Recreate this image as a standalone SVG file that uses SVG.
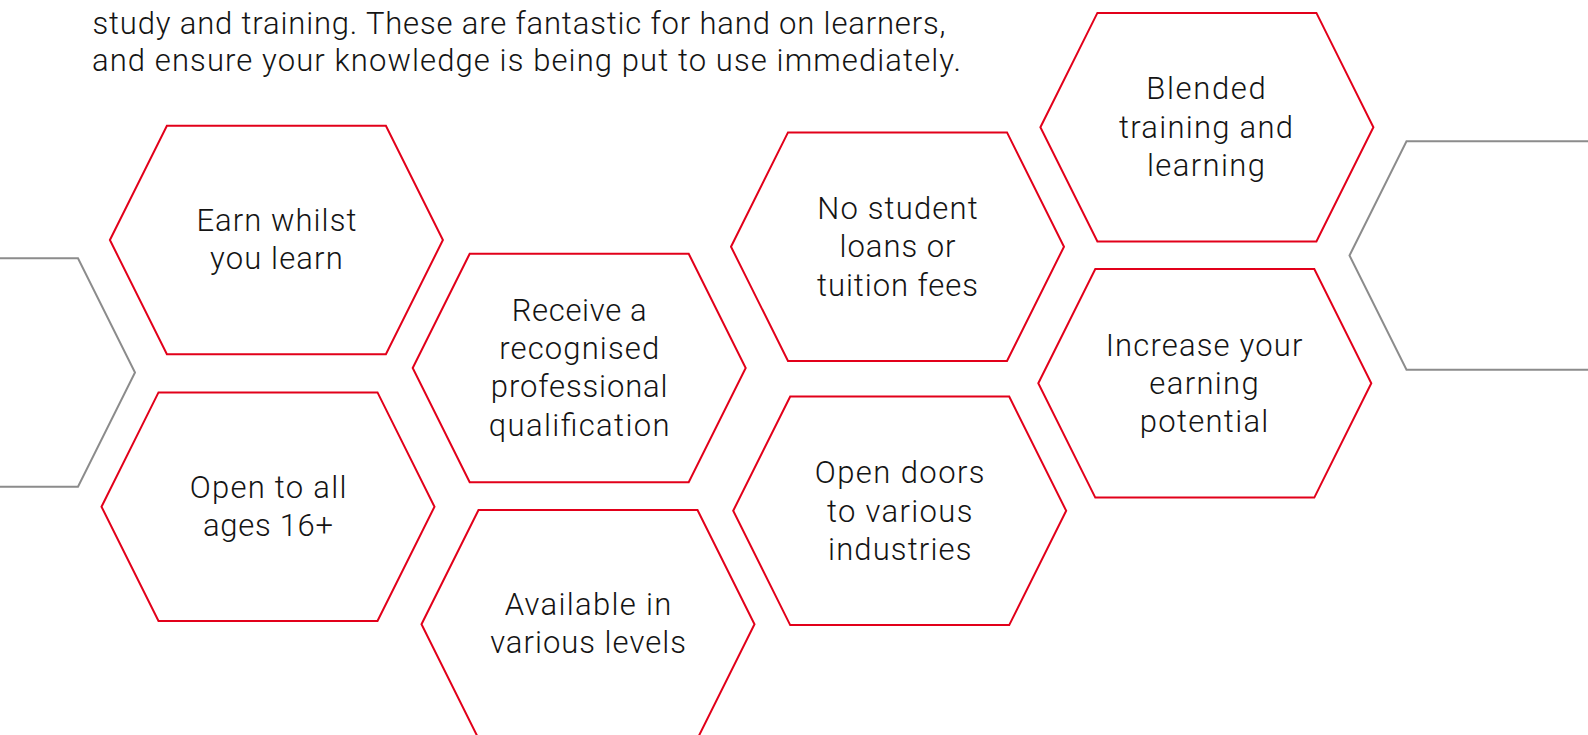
<svg xmlns="http://www.w3.org/2000/svg" xmlns:xlink="http://www.w3.org/1999/xlink" width="1588" height="735" viewBox="0 0 1588 735">
  <style>
    .hex { fill: #ffffff; stroke: #e2001a; stroke-width: 2; stroke-linejoin: miter; }
    .ghex { fill: #ffffff; stroke: #8c8c8c; stroke-width: 2; stroke-linejoin: miter; }
    .lbl { font-family: Roboto, "Liberation Sans", sans-serif; font-weight: 300; font-size: 31px; fill: #141414; text-anchor: middle; }
    .para { font-family: Roboto, "Liberation Sans", sans-serif; font-weight: 300; font-size: 31px; fill: #141414; }
  </style>
  <defs>
    <polygon id="hexshape" points="-166.5,0 -109.5,-114.3 109.5,-114.3 166.5,0 109.5,114.3 -109.5,114.3"/>
  </defs>
  <rect width="1588" height="735" fill="#ffffff"/>

  <g id="intro">
    <text class="para" x="92.5" y="34" textLength="853" lengthAdjust="spacing">study and training. These are fantastic for hand on learners,</text>
    <text class="para" x="92" y="71" textLength="869" lengthAdjust="spacing">and ensure your knowledge is being put to use immediately.</text>
  </g>

  <g id="node-grey-left">
    <use xlink:href="#hexshape" class="ghex" transform="translate(-31.5,372.5)"/>
  </g>
  <g id="node-grey-right">
    <use xlink:href="#hexshape" class="ghex" transform="translate(1516,255.5)"/>
  </g>

  <g id="node-earn">
    <use xlink:href="#hexshape" class="hex" transform="translate(276.4,240)"/>
    <text class="lbl" x="276.4" y="230.7" textLength="160" lengthAdjust="spacing">Earn whilst</text>
    <text class="lbl" x="276.4" y="269" textLength="132.7" lengthAdjust="spacing">you learn</text>
  </g>

  <g id="node-open-all">
    <use xlink:href="#hexshape" class="hex" transform="translate(268,506.7)"/>
    <text class="lbl" x="268" y="498" textLength="156.7" lengthAdjust="spacing">Open to all</text>
    <text class="lbl" x="268" y="536" textLength="130" lengthAdjust="spacing">ages 16+</text>
  </g>

  <g id="node-receive">
    <use xlink:href="#hexshape" class="hex" transform="translate(579.2,368)"/>
    <text class="lbl" x="579.2" y="321" textLength="135" lengthAdjust="spacing">Receive a</text>
    <text class="lbl" x="579.2" y="359" textLength="160" lengthAdjust="spacing">recognised</text>
    <text class="lbl" x="579.2" y="397.3" textLength="176.7" lengthAdjust="spacing">professional</text>
    <text class="lbl" x="579.2" y="436" textLength="180.7" lengthAdjust="spacing">qualification</text>
  </g>

  <g id="node-available">
    <use xlink:href="#hexshape" class="hex" transform="translate(588,624.3)"/>
    <text class="lbl" x="588" y="615" textLength="166.7" lengthAdjust="spacing">Available in</text>
    <text class="lbl" x="588" y="653.3" textLength="195.7" lengthAdjust="spacing">various levels</text>
  </g>

  <g id="node-no-student">
    <use xlink:href="#hexshape" class="hex" transform="translate(897.5,246.7)"/>
    <text class="lbl" x="897.5" y="219.3" textLength="160.3" lengthAdjust="spacing">No student</text>
    <text class="lbl" x="897.5" y="257.3" textLength="116" lengthAdjust="spacing">loans or</text>
    <text class="lbl" x="897.5" y="295.7" textLength="161" lengthAdjust="spacing">tuition fees</text>
  </g>

  <g id="node-open-doors">
    <use xlink:href="#hexshape" class="hex" transform="translate(899.7,510.8)"/>
    <text class="lbl" x="899.7" y="483.3" textLength="169.7" lengthAdjust="spacing">Open doors</text>
    <text class="lbl" x="899.7" y="521.7" textLength="145.3" lengthAdjust="spacing">to various</text>
    <text class="lbl" x="899.7" y="560.3" textLength="143.3" lengthAdjust="spacing">industries</text>
  </g>

  <g id="node-blended">
    <use xlink:href="#hexshape" class="hex" transform="translate(1206.9,127.2)"/>
    <text class="lbl" x="1206" y="99.3" textLength="119.6" lengthAdjust="spacing">Blended</text>
    <text class="lbl" x="1206" y="137.7" textLength="173.9" lengthAdjust="spacing">training and</text>
    <text class="lbl" x="1206" y="176" textLength="118" lengthAdjust="spacing">learning</text>
  </g>

  <g id="node-increase">
    <use xlink:href="#hexshape" class="hex" transform="translate(1204.8,383.3)"/>
    <text class="lbl" x="1204" y="356" textLength="196.7" lengthAdjust="spacing">Increase your</text>
    <text class="lbl" x="1204" y="394" textLength="109.4" lengthAdjust="spacing">earning</text>
    <text class="lbl" x="1204" y="432.3" textLength="128.6" lengthAdjust="spacing">potential</text>
  </g>

  <g id="connectors"></g>
</svg>
